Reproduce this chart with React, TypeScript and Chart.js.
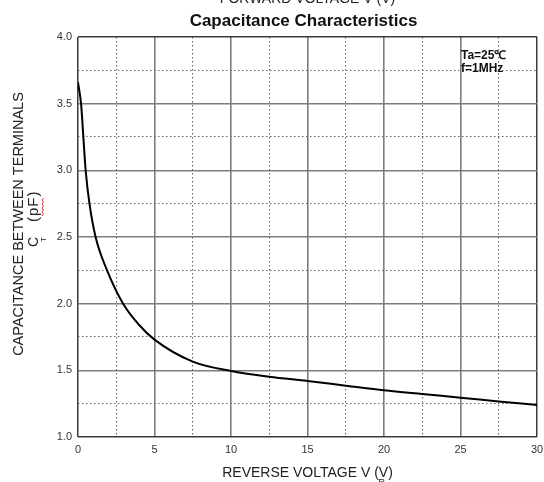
import React, { useEffect, useRef } from 'react';
import { Chart, registerables } from 'chart.js';

Chart.register(...registerables);

// Reverse voltage (V) and terminal capacitance (pF)
const voltage = [0, 0.2, 0.35, 0.5, 0.75, 1.15, 1.9, 2.95, 4, 5, 7.5, 10, 12.5, 15, 17.5, 20, 22.5, 25, 27.5, 30];
const capacitance = [3.66, 3.5, 3.25, 3.0, 2.75, 2.5, 2.25, 2.0, 1.84, 1.73, 1.565, 1.495, 1.452, 1.42, 1.385, 1.35, 1.322, 1.295, 1.267, 1.24];

const xMin = 0;
const xMax = 30;
const xStep = 2.5;
const xMajor = 5;
const yMin = 1;
const yMax = 4;
const yStep = 0.25;
const yMajor = 0.5;

const titleText = 'Capacitance Characteristics';
const topCutText = 'FORWARD VOLTAGE V (V)';
const xTitle = 'REVERSE VOLTAGE V (V)';
const yTitle = 'CAPACITANCE BETWEEN TERMINALS';
const noteLines = ['Ta=25\u2103', 'f=1MHz'];

const FONT = '"Liberation Sans", Arial, sans-serif';

const isMult = (v: number, m: number) => Math.abs(v / m - Math.round(v / m)) < 1e-6;

export default function App() {
  const ref = useRef<HTMLCanvasElement | null>(null);

  useEffect(() => {
    if (!ref.current) return;

    const textPlugin = {
      id: 'texts',
      afterDraw(chart: any) {
        const { ctx, chartArea } = chart;
        const cx = (chartArea.left + chartArea.right) / 2;
        ctx.save();
        ctx.textBaseline = 'alphabetic';
        // clipped top text
        ctx.font = `14px ${FONT}`;
        ctx.textAlign = 'center';
        ctx.fillStyle = '#222';
        ctx.fillText(topCutText, cx, 3);
        // main title
        ctx.font = `bold 17px ${FONT}`;
        ctx.fillStyle = '#111';
        ctx.fillText(titleText, cx - 4, 26);
        // x title
        ctx.font = `14px ${FONT}`;
        ctx.fillStyle = '#222';
        ctx.fillText(xTitle, cx, 477);
        const w = ctx.measureText(xTitle).width;
        ctx.font = `9px ${FONT}`;
        ctx.fillText('R', cx + w / 2 - 11, 485);
        // notes
        ctx.font = `bold 12px ${FONT}`;
        ctx.textAlign = 'left';
        ctx.fillStyle = '#111';
        ctx.fillText(noteLines[0], 461, 59);
        ctx.fillText(noteLines[1], 461, 72);
        // y title
        ctx.save();
        ctx.translate(23, 224);
        ctx.rotate(-Math.PI / 2);
        ctx.textAlign = 'center';
        ctx.font = `14.5px ${FONT}`;
        ctx.fillStyle = '#222';
        ctx.fillText(yTitle, 0, 0);
        ctx.restore();
        // second line: C_T (pF)
        ctx.save();
        ctx.translate(38, 247);
        ctx.rotate(-Math.PI / 2);
        ctx.textAlign = 'left';
        ctx.font = `14px ${FONT}`;
        ctx.fillStyle = '#222';
        ctx.fillText('C', 0, 0);
        ctx.font = `8px ${FONT}`;
        ctx.fillText('T', 5, 8);
        ctx.font = `15px ${FONT}`;
        (ctx as any).letterSpacing = '1px';
        ctx.fillText('(pF)', 25, 0);
        const pw = ctx.measureText('(').width;
        const fw = ctx.measureText('pF').width;
        (ctx as any).letterSpacing = '0px';
        ctx.strokeStyle = '#d33';
        ctx.lineWidth = 1;
        ctx.beginPath();
        const sx = 25 + pw;
        const n = Math.ceil((fw - 2) / 2);
        for (let i = 0; i <= n; i++) {
          const px = sx + i * 2;
          const py = 4 + (i % 2 === 0 ? 0 : 1.5);
          if (i === 0) ctx.moveTo(px, py);
          else ctx.lineTo(px, py);
        }
        ctx.stroke();
        ctx.restore();
        ctx.restore();
      },
    };

    const gridColor = (v: number, min: number, max: number, major: number) => {
      if (Math.abs(v - min) < 1e-6 || Math.abs(v - max) < 1e-6) return '#3a3a3a';
      if (isMult(v, major)) return '#7d7d7d';
      return '#6a6a6a';
    };
    const gridWidth = (v: number, min: number, max: number, major: number) => {
      if (Math.abs(v - min) < 1e-6 || Math.abs(v - max) < 1e-6) return 1.5;
      if (isMult(v, major)) return 1.6;
      return 1.1;
    };

    const chart = new Chart(ref.current, {
      type: 'scatter',
      data: {
        datasets: [
          {
            data: voltage.map((v, i) => ({ x: v, y: capacitance[i] })),
            showLine: true,
            borderColor: '#000',
            borderWidth: 2,
            pointRadius: 0,
            cubicInterpolationMode: 'monotone',
            fill: false,
          },
        ],
      },
      options: {
        animation: false,
        responsive: false,
        devicePixelRatio: 1,
        layout: { padding: { top: 37, right: 7, bottom: 0, left: 0 } },
        plugins: {
          legend: { display: false },
          tooltip: { enabled: false },
          title: { display: false },
        },
        scales: {
          x: {
            type: 'linear',
            min: xMin,
            max: xMax,
            afterFit: (s: any) => {
              s.height = 45;
              s.paddingRight = 0;
              s.paddingLeft = 0;
            },
            ticks: {
              stepSize: xStep,
              autoSkip: false,
              maxRotation: 0,
              padding: 6,
              color: '#333',
              font: { family: FONT, size: 11 },
              callback: (v: any) => (isMult(Number(v), xMajor) ? String(v) : ''),
            },
            grid: {
              drawTicks: false,
              color: (c: any) => gridColor(c.tick.value, xMin, xMax, xMajor),
              lineWidth: (c: any) => gridWidth(c.tick.value, xMin, xMax, xMajor),
            },
            border: {
              display: false,
              dash: (c: any) =>
                c.tick && !isMult(c.tick.value, xMajor) ? [1.5, 2.5] : [],
            },
          },
          y: {
            type: 'linear',
            min: yMin,
            max: yMax,
            afterFit: (s: any) => {
              s.width = 78;
            },
            ticks: {
              stepSize: yStep,
              autoSkip: false,
              padding: 6,
              color: '#333',
              font: { family: FONT, size: 11 },
              callback: (v: any) => (isMult(Number(v), yMajor) ? Number(v).toFixed(1) : ''),
            },
            grid: {
              drawTicks: false,
              color: (c: any) => gridColor(c.tick.value, yMin, yMax, yMajor),
              lineWidth: (c: any) => gridWidth(c.tick.value, yMin, yMax, yMajor),
            },
            border: {
              display: false,
              dash: (c: any) =>
                c.tick && !isMult(c.tick.value, yMajor) ? [1.5, 2.5] : [],
            },
          },
        },
      } as any,
      plugins: [textPlugin],
    });

    return () => chart.destroy();
  }, []);

  return (
    <div style={{ position: 'fixed', left: 0, top: 0, width: 544, height: 482, background: '#fff' }}>
      <canvas ref={ref} width={544} height={482} style={{ width: 544, height: 482, display: 'block' }} />
    </div>
  );
}
